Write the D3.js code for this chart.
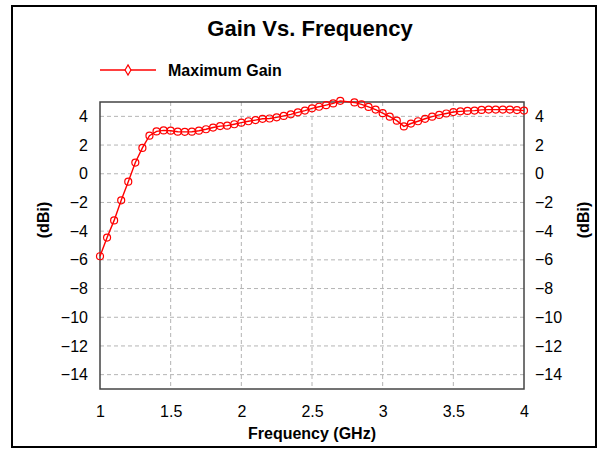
<!DOCTYPE html>
<html><head><meta charset="utf-8">
<script src="https://cdn.jsdelivr.net/npm/d3@7/dist/d3.min.js"></script>
<style>body{margin:0;background:#fff}svg{display:block;font-family:Arial,"Liberation Sans",sans-serif}</style>
</head><body>
<script>
const title = "Gain Vs. Frequency";
const seriesName = "Maximum Gain";
const xLabel = "Frequency (GHz)";
const yLabel = "(dBi)";
const freq = [1.00,1.05,1.10,1.15,1.20,1.25,1.30,1.35,1.40,1.45,1.50,1.55,1.60,1.65,1.70,1.75,1.80,1.85,1.90,1.95,
  2.00,2.05,2.10,2.15,2.20,2.25,2.30,2.35,2.40,2.45,2.50,2.55,2.60,2.65,2.70,2.80,2.85,2.90,2.95,
  3.00,3.05,3.10,3.15,3.20,3.25,3.30,3.35,3.40,3.45,3.50,3.55,3.60,3.65,3.70,3.75,3.80,3.85,3.90,3.95,4.00];
const gain = [-5.75,-4.45,-3.25,-1.85,-0.55,0.78,1.8,2.65,2.95,3.02,3.0,2.93,2.92,2.93,3.0,3.1,3.22,3.32,3.35,3.45,
  3.56,3.66,3.74,3.83,3.85,3.93,4.03,4.14,4.28,4.4,4.56,4.67,4.78,4.9,5.08,4.97,4.84,4.66,4.47,
  4.22,3.98,3.7,3.3,3.5,3.66,3.83,3.98,4.1,4.2,4.3,4.35,4.38,4.4,4.45,4.47,4.47,4.47,4.47,4.44,4.4];
const xTicks = [1,1.5,2,2.5,3,3.5,4];
const yTicks = [4,2,0,-2,-4,-6,-8,-10,-12,-14];

const W=600,H=450;
const svg=d3.select("body").append("svg").attr("width",W).attr("height",H);
const L=100,R=524,T=102,B=389;
const x=d3.scaleLinear().domain([1,4]).range([L,R]);
const y=d3.scaleLinear().domain([-15,5]).range([B,T]);

svg.append("rect").attr("x",12).attr("y",6).attr("width",584).attr("height",441)
  .attr("fill","#fff").attr("stroke","#000").attr("stroke-width",2);

svg.append("text").attr("x",310).attr("y",36).attr("text-anchor","middle")
  .attr("font-size",22).attr("font-weight","bold").text(title);

// legend
const lg=svg.append("g");
lg.append("line").attr("x1",100).attr("x2",156).attr("y1",70).attr("y2",70).attr("stroke","red").attr("stroke-width",1.4);
lg.append("path").attr("d",d3.symbol(d3.symbolDiamond,30)()).attr("transform","translate(128,70)")
  .attr("fill","#fff").attr("stroke","red").attr("stroke-width",1.2);
lg.append("text").attr("x",168).attr("y",76).attr("font-size",16).attr("font-weight","bold").text(seriesName);

// grid
const grid=svg.append("g").attr("stroke","#b4b4b4").attr("stroke-dasharray","4,3").attr("stroke-width",1);
xTicks.filter(v=>v>1&&v<4).forEach(v=>grid.append("line").attr("x1",x(v)).attr("x2",x(v)).attr("y1",T).attr("y2",B));
yTicks.forEach(v=>grid.append("line").attr("x1",L).attr("x2",R).attr("y1",y(v)).attr("y2",y(v)));

// axes
const axL=svg.append("g").attr("transform",`translate(${L},0)`).call(d3.axisLeft(y).tickValues(yTicks).tickSize(0).tickPadding(12));
const axR=svg.append("g").attr("transform",`translate(${R},0)`).call(d3.axisRight(y).tickValues(yTicks).tickSize(0).tickPadding(11));
const axB=svg.append("g").attr("transform",`translate(0,${B})`).call(d3.axisBottom(x).tickValues(xTicks).tickFormat(d3.format("")).tickSize(0).tickPadding(17));
[axL,axR,axB].forEach(a=>{a.select(".domain").remove();a.selectAll("text").attr("font-size",16).attr("fill","#000").attr("font-family","Arial, Liberation Sans, sans-serif");});

svg.append("rect").attr("x",L).attr("y",T).attr("width",R-L).attr("height",B-T)
  .attr("fill","none").attr("stroke","#444").attr("stroke-width",1.5);

// labels
svg.append("text").attr("x",312).attr("y",439).attr("text-anchor","middle").attr("font-size",16).attr("font-weight","bold").text(xLabel);
svg.append("text").attr("transform","translate(49,220) rotate(-90)").attr("text-anchor","middle").attr("font-size",16).attr("font-weight","bold").text(yLabel);
svg.append("text").attr("transform","translate(589,220) rotate(-90)").attr("text-anchor","middle").attr("font-size",16).attr("font-weight","bold").text(yLabel);

// series
const pts=freq.map((f,i)=>[f,gain[i]]);
svg.append("path").datum(pts).attr("fill","none").attr("stroke","red").attr("stroke-width",1.4)
  .attr("d",d3.line().x(d=>x(d[0])).y(d=>y(d[1])));
svg.append("g").selectAll("circle").data(pts).join("circle")
  .attr("cx",d=>x(d[0])).attr("cy",d=>y(d[1])).attr("r",3.5)
  .attr("fill","none").attr("stroke","red").attr("stroke-width",1.2);
</script>
</body></html>
